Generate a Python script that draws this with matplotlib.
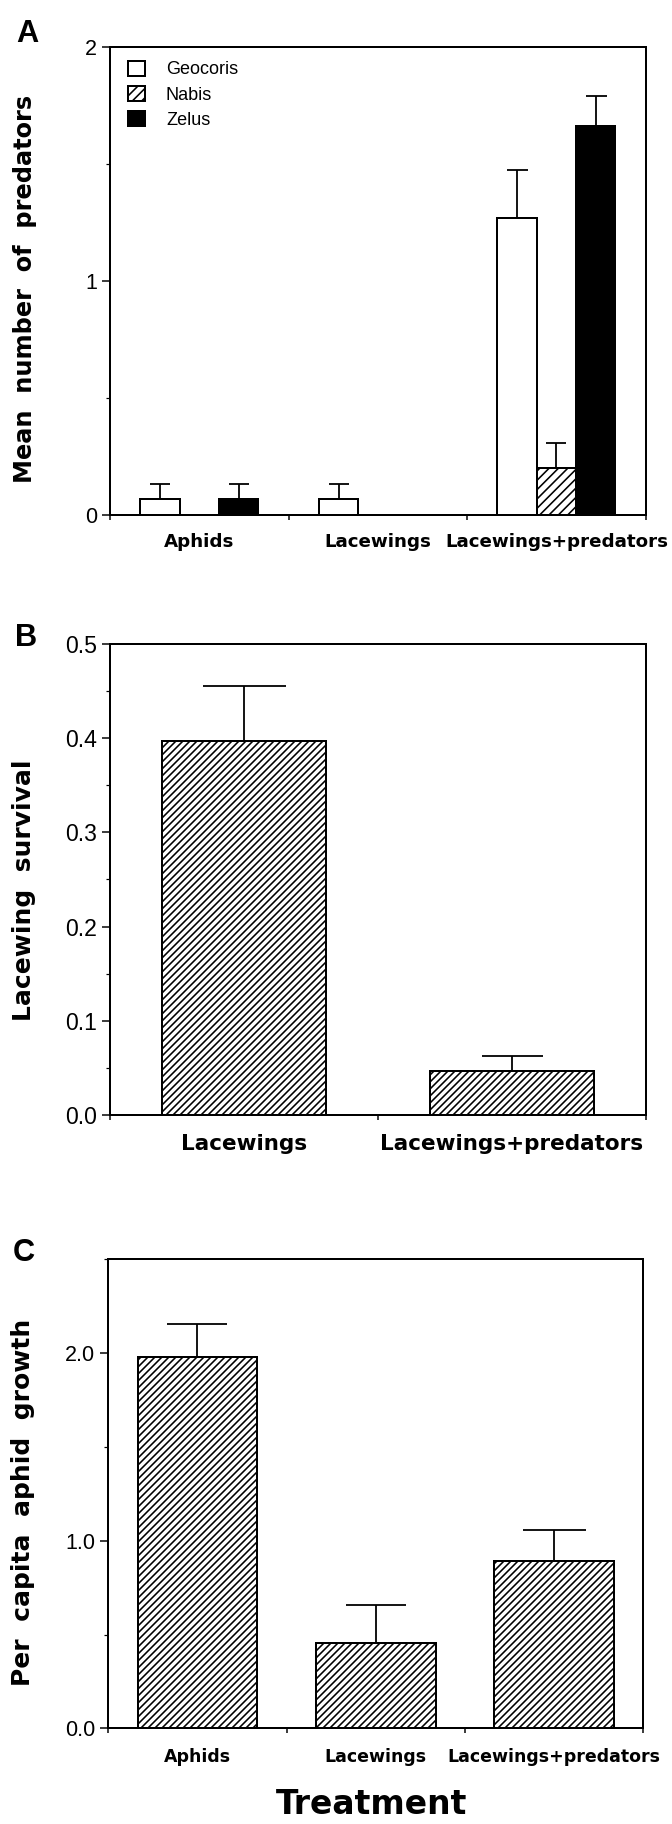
import numpy as np
import matplotlib
matplotlib.use("Agg")
import matplotlib.pyplot as plt
from matplotlib.ticker import MultipleLocator, FormatStrFormatter

# Predator counts, lacewing survival and aphid growth per treatment

treatments = ["Aphids", "Lacewings", "Lacewings+predators"]
predators = ["Geocoris", "Nabis", "Zelus"]
geocoris_mean = np.array([0.067, 0.067, 1.267])
geocoris_se = np.array([0.067, 0.067, 0.205])
nabis_mean = np.array([0.0, 0.0, 0.20])
nabis_se = np.array([0.0, 0.0, 0.107])
zelus_mean = np.array([0.067, 0.0, 1.663])
zelus_se = np.array([0.067, 0.0, 0.125])

surv_treatments = ["Lacewings", "Lacewings+predators"]
surv_mean = np.array([0.397, 0.047])
surv_se = np.array([0.058, 0.016])

growth_mean = np.array([1.98, 0.455, 0.89])
growth_se = np.array([0.177, 0.20, 0.165])

DPI = 84
W, H = 672, 1824


def pt(px):
    return px * 72.0 / DPI


def fx(x):
    return x / W


def fy(y):
    return 1 - y / H


plt.rcParams['font.family'] = 'Liberation Sans'
plt.rcParams['hatch.linewidth'] = pt(1.6)
plt.rcParams['hatch.color'] = 'black'

fig = plt.figure(figsize=(W / DPI, H / DPI), dpi=DPI)


def make_axes(left, right, top, bottom):
    return fig.add_axes([fx(left), fy(bottom), (right - left) / W, (bottom - top) / H])


def style_axes(ax, labels, lab_px, lab_pad, top, major, minor, fmt, tick_px):
    n = len(labels)
    ax.set_xlim(-0.5, n - 0.5)
    ax.set_ylim(0, top)
    ax.set_xticks(range(n))
    ax.set_xticklabels(labels, family='DejaVu Sans', fontweight='bold', fontsize=pt(lab_px))
    ax.set_xticks(np.arange(n + 1) - 0.5, minor=True)
    ax.tick_params(axis='x', which='major', length=0, pad=pt(lab_pad))
    ax.tick_params(axis='x', which='minor', length=pt(5), width=pt(1.5), direction='out')
    ax.yaxis.set_major_locator(MultipleLocator(major))
    ax.yaxis.set_minor_locator(MultipleLocator(minor))
    ax.yaxis.set_major_formatter(FormatStrFormatter(fmt))
    ax.tick_params(axis='y', which='major', length=pt(8), width=pt(1.5), pad=pt(5),
                   labelsize=pt(tick_px))
    ax.tick_params(axis='y', which='minor', length=pt(4), width=pt(1.2))
    for s in ax.spines.values():
        s.set_linewidth(pt(2))


def draw_bars(ax, x, mean, se, width, fc, hatch, caps_px, label=None):
    keep = mean > 0
    bars = ax.bar(x[keep], mean[keep], width, facecolor=fc, edgecolor='black',
                  hatch=hatch, linewidth=pt(2), label=label, zorder=2)
    for xi, m, s, c in zip(x[keep], mean[keep], se[keep], np.array(caps_px)[keep]):
        ax.errorbar([xi], [m], yerr=[[0], [s]], fmt='none', ecolor='black',
                    elinewidth=pt(1.8), capsize=pt(c / 2), capthick=pt(1.8), zorder=3)
    return bars


# ---- panel A
ax1 = make_axes(110, 645.7, 46.7, 515)
xa = np.arange(len(treatments))
bw = 0.22
h1 = draw_bars(ax1, xa - bw, geocoris_mean, geocoris_se, bw, 'white', None, [20, 20, 21], predators[0])
h2 = draw_bars(ax1, xa, nabis_mean, nabis_se, bw, 'white', '///', [20, 20, 20], predators[1])
h3 = draw_bars(ax1, xa + bw, zelus_mean, zelus_se, bw, 'black', None, [20, 20, 21], predators[2])
style_axes(ax1, treatments, 18.3, 17.7, 2, 1, 0.5, '%d', 21.5)
ax1.legend(handles=[h1, h2, h3], loc='upper left', bbox_to_anchor=(0.0336, 0.9705),
           frameon=False, borderpad=0, borderaxespad=0, handlelength=0.94,
           handleheight=0.94, handletextpad=1.17, labelspacing=0.4, fontsize=pt(18))

# ---- panel B
ax2 = make_axes(110, 646, 644, 1115)
xb = np.arange(len(surv_treatments))
draw_bars(ax2, xb, surv_mean, surv_se, 0.615, 'white', '////', [83, 61])
style_axes(ax2, surv_treatments, 21.5, 19.4, 0.5, 0.1, 0.05, '%.1f', 23)

# ---- panel C
ax3 = make_axes(108.3, 643.3, 1259.3, 1728.3)
draw_bars(ax3, xa, growth_mean, growth_se, 0.67, 'white', '////', [60, 60, 63])
style_axes(ax3, treatments, 17.4, 19.4, 2.5, 1, 0.5, '%.1f', 21.5)

# panel letters and axis titles
for letter, x, y in [("A", 27, 42), ("B", 26.5, 646), ("C", 23.5, 1261)]:
    fig.text(fx(x), fy(y), letter, ha='center', va='baseline', fontsize=pt(30.7),
             fontweight='bold')

for text, x, y, size in [("Mean  number  of  predators", 25, 289, 24),
                         ("Lacewing  survival", 24, 890, 25),
                         ("Per  capita  aphid  growth", 23, 1502, 25)]:
    fig.text(fx(x), fy(y), text, rotation=90, ha='center', va='center',
             fontsize=pt(size), fontweight='bold', family='DejaVu Sans')

fig.text(fx(372), fy(1814), "Treatment", ha='center', va='baseline',
         fontsize=pt(33), fontweight='bold', family='DejaVu Sans')

fig.savefig("out.png", dpi=DPI)
